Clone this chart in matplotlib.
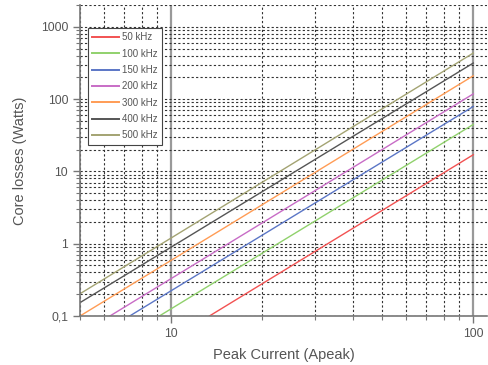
import matplotlib
matplotlib.use("Agg")
import matplotlib.pyplot as plt
from matplotlib.ticker import LogLocator, FixedLocator, FixedFormatter, NullFormatter

plt.rcParams['font.family'] = ['Liberation Sans', 'DejaVu Sans']

# Line endpoints (log-log straight lines)
labels = ["50 kHz", "100 kHz", "150 kHz", "200 kHz", "300 kHz", "400 kHz", "500 kHz"]
colors = ["#f25252", "#90d16c", "#5b76c6", "#c86cc6", "#ff9c55", "#555555", "#a3a372"]
i_start = [13.4, 9.15, 7.3, 6.28, 5.0, 5.0, 5.0]
i_end = [100, 100, 100, 100, 100, 100, 100]
p_start = [0.1, 0.1, 0.1, 0.1, 0.1, 0.153, 0.203]
p_end = [17, 44.6, 79, 118, 210, 315, 433]

y_ticks = [0.1, 1, 10, 100, 1000]
y_ticklabels = ["0,1", "1", "10", "100", "1000"]
x_ticks = [10, 100]
x_ticklabels = ["10", "100"]

fig = plt.figure(figsize=(4.89, 3.65), dpi=100)
ax = fig.add_axes([80 / 489, 1 - 316 / 365, 407 / 489, 311 / 365])

for lab, c, x0, x1, y0, y1 in zip(labels, colors, i_start, i_end, p_start, p_end):
    ax.plot([x0, x1], [y0, y1], color=c, lw=1.0, label=lab)

ax.set_xscale('log')
ax.set_yscale('log')
ax.set_xlim(5, 111)
ax.set_ylim(0.1, 2000)

grey = "#555555"
ax.yaxis.set_major_locator(FixedLocator(y_ticks))
ax.yaxis.set_major_formatter(FixedFormatter(y_ticklabels))
ax.yaxis.set_minor_locator(LogLocator(base=10, subs=range(2, 10)))
ax.yaxis.set_minor_formatter(NullFormatter())
ax.xaxis.set_major_locator(FixedLocator(x_ticks))
ax.xaxis.set_major_formatter(FixedFormatter(x_ticklabels))
ax.xaxis.set_minor_locator(LogLocator(base=10, subs=range(2, 10)))
ax.xaxis.set_minor_formatter(NullFormatter())

dots = dict(color="#333333", lw=0.8, linestyle=(0, (2, 2)))
ax.grid(True, which='both', axis='y', **dots)
ax.grid(True, which='minor', axis='x', **dots)
ax.grid(True, which='major', axis='x', color="#999999", lw=1.6, linestyle='-')
ax.set_axisbelow(True)

for s in ['top', 'right']:
    ax.spines[s].set_visible(False)
for s in ['left', 'bottom']:
    ax.spines[s].set_color("#777777")
    ax.spines[s].set_linewidth(1.2)

ax.tick_params(which='major', length=5, width=1, color="#777777", labelsize=8.7, labelcolor=grey)
ax.tick_params(which='minor', length=3, width=0.8, color="#777777")

ax.set_xlabel("Peak Current (Apeak)", fontsize=10.5, color=grey, labelpad=6)
ax.set_ylabel("Core losses (Watts)", fontsize=10.5, color=grey, labelpad=10)

leg = ax.legend(loc='upper left', bbox_to_anchor=(0.0197, 0.926), fontsize=7,
                handlelength=2.7, labelspacing=0.65, borderaxespad=0, fancybox=False,
                framealpha=1, edgecolor="#444444", borderpad=0.45, handletextpad=0.35)
leg.get_frame().set_linewidth(0.8)
for line in leg.get_lines():
    line.set_linewidth(1.4)
for t in leg.get_texts():
    t.set_color(grey)

fig.savefig("out.png", dpi=100)
